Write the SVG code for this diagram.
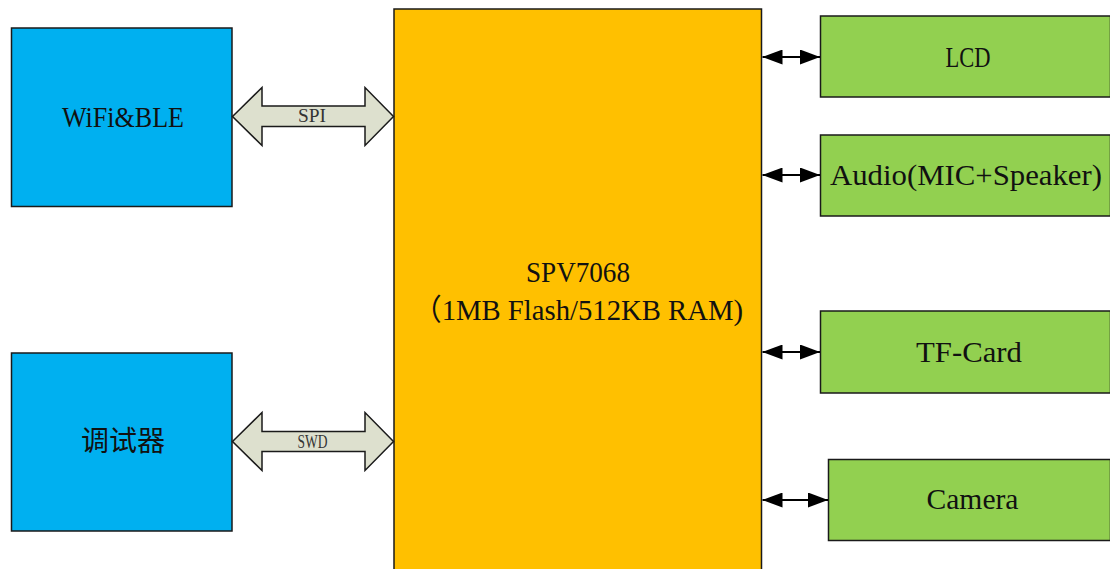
<svg xmlns="http://www.w3.org/2000/svg" width="1110" height="569" viewBox="0 0 1110 569">
<style>
.box{stroke:#1a1a1a;stroke-width:1.5}
.blue{fill:#00B0F0}
.orange{fill:#FFC000}
.green{fill:#92D050}
.t{font-family:"Liberation Serif","Noto Sans CJK SC",serif;font-size:30px;fill:#111;text-anchor:middle}
.cjk{font-family:"Noto Sans CJK SC","Noto Sans CJK TC",sans-serif;font-size:28px;fill:#111;text-anchor:middle}
.lbl{font-family:"Liberation Serif",serif;font-size:18px;fill:#333;text-anchor:middle}
.bus{fill:#DDE0CE;stroke:#1a1a1a;stroke-width:1.5;stroke-linejoin:miter}
.wire{stroke:#000;stroke-width:2;fill:none}
</style>
<defs>
<marker id="ah" markerUnits="userSpaceOnUse" markerWidth="20" markerHeight="15" refX="20" refY="7.5" orient="auto-start-reverse" viewBox="0 0 20 15">
<path d="M0,0 L20,7.5 L0,15 z" fill="#000"/>
</marker>
</defs>
<rect width="1110" height="569" fill="#fff"/>

<g id="wifi">
<rect class="box blue" x="11.5" y="28" width="220.5" height="178.5"/>
<text class="t" x="123" y="127" textLength="122" lengthAdjust="spacingAndGlyphs">WiFi&amp;BLE</text>
</g>

<g id="debugger">
<rect class="box blue" x="11.5" y="353" width="220.5" height="178"/>
<text class="cjk" x="123" y="451">调试器</text>
</g>

<g id="soc">
<rect class="box orange" x="394" y="9" width="367.5" height="570"/>
<text class="t" x="578" y="282" textLength="104" lengthAdjust="spacingAndGlyphs">SPV7068</text>
<text class="t" x="578" y="320" textLength="330" lengthAdjust="spacingAndGlyphs">（1MB Flash/512KB RAM)</text>
</g>

<g id="lcd">
<rect class="box green" x="820.5" y="16" width="290" height="81"/>
<text class="t" x="968" y="67" textLength="45" lengthAdjust="spacingAndGlyphs">LCD</text>
</g>

<g id="audio">
<rect class="box green" x="820.5" y="135" width="290" height="81"/>
<text class="t" x="966" y="185" textLength="272" lengthAdjust="spacingAndGlyphs">Audio(MIC+Speaker)</text>
</g>

<g id="tfcard">
<rect class="box green" x="820.5" y="311" width="290" height="82"/>
<text class="t" x="969" y="362" textLength="106" lengthAdjust="spacingAndGlyphs">TF-Card</text>
</g>

<g id="camera">
<rect class="box green" x="828.5" y="459.5" width="282" height="81"/>
<text class="t" x="972.5" y="509" textLength="92" lengthAdjust="spacingAndGlyphs">Camera</text>
</g>

<g id="connectors">
<polygon class="bus" points="232.5,116.5 262,87.5 262,106 365,106 365,87.5 393.5,116.5 365,145.5 365,126.5 262,126.5 262,145.5"/>
<text class="lbl" x="312" y="122" textLength="28" lengthAdjust="spacingAndGlyphs">SPI</text>
<polygon class="bus" points="232.5,441.5 262,412.5 262,431.5 365,431.5 365,412.5 393.5,441.5 365,470.5 365,451.5 262,451.5 262,470.5"/>
<text class="lbl" x="312.5" y="448" textLength="30" lengthAdjust="spacingAndGlyphs">SWD</text>
<line class="wire" x1="762.5" y1="57" x2="820" y2="57" marker-start="url(#ah)" marker-end="url(#ah)"/>
<line class="wire" x1="762.5" y1="175" x2="820" y2="175" marker-start="url(#ah)" marker-end="url(#ah)"/>
<line class="wire" x1="762.5" y1="352" x2="820" y2="352" marker-start="url(#ah)" marker-end="url(#ah)"/>
<line class="wire" x1="762.5" y1="500" x2="828" y2="500" marker-start="url(#ah)" marker-end="url(#ah)"/>
</g>
</svg>
